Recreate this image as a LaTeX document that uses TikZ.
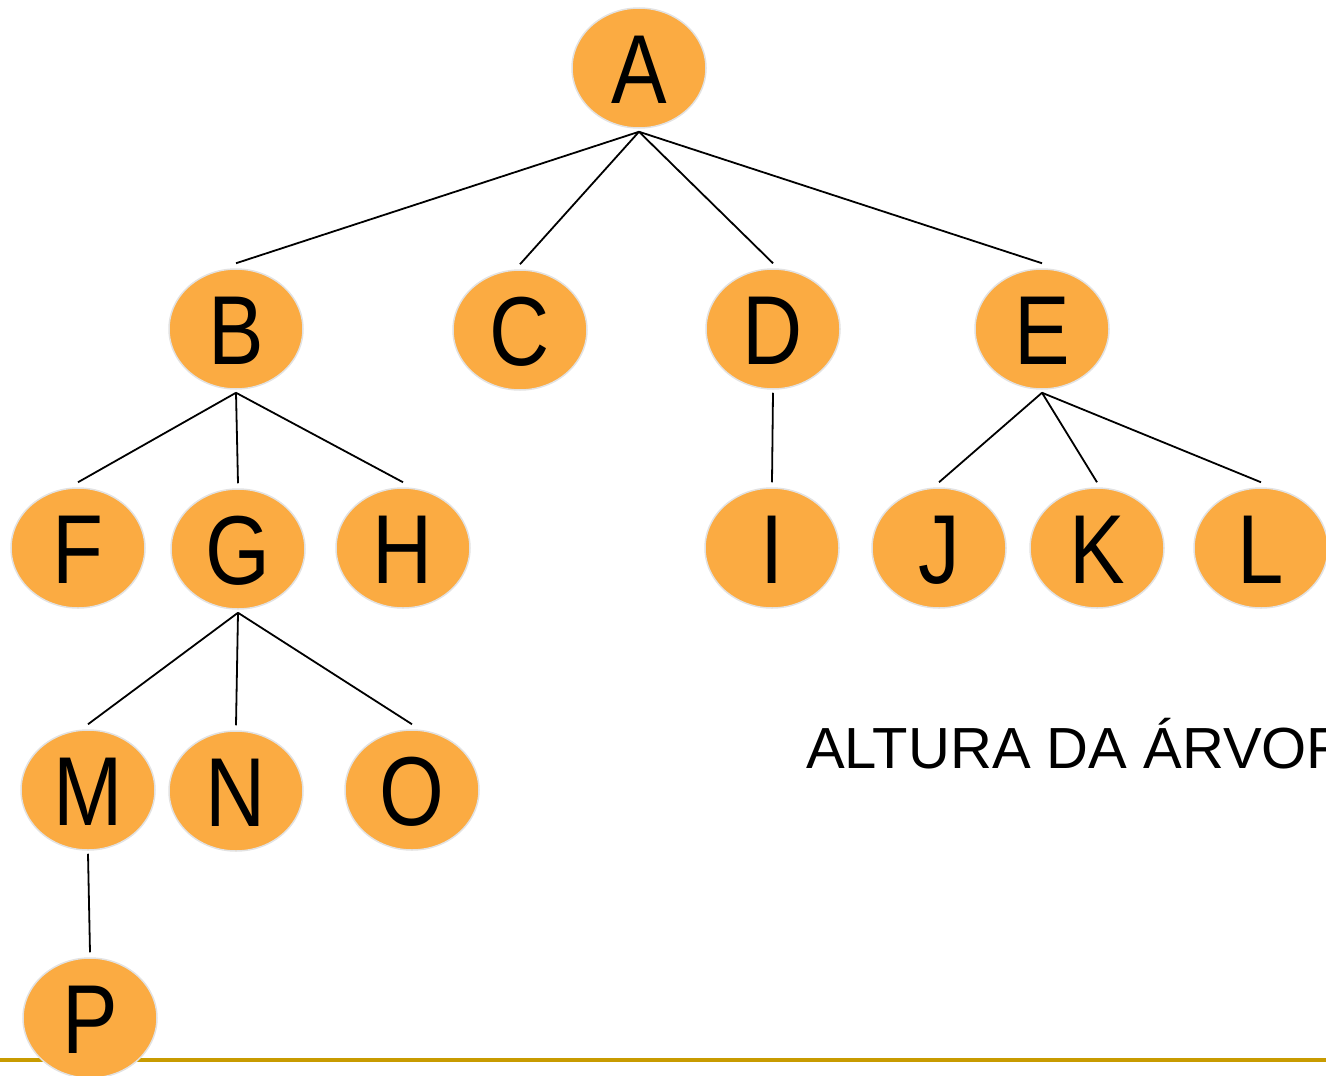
\documentclass[tikz,border=0pt]{standalone}
\usepackage{fontspec}
\setmainfont{Liberation Sans}
\newfontfamily\nodefont[FakeStretch=0.85]{Liberation Sans}
\usetikzlibrary{shapes.geometric}
\definecolor{nodeorange}{HTML}{FBAB42}
\definecolor{nodeborder}{HTML}{E2E2E2}
\definecolor{goldline}{HTML}{C89B00}
\begin{document}
\begin{tikzpicture}[x=1pt,y=-1pt,
  treenode/.style={ellipse, fill=nodeorange, draw=nodeborder, line width=1.5pt,
    minimum width=134pt, minimum height=120pt, inner sep=0pt,
    font=\nodefont\fontsize{98}{98}\selectfont, text height=70pt, text depth=0pt},
  edge/.style={draw=black, line width=1.8pt}]
\useasboundingbox (0,0) rectangle (1326,1076);
\draw[goldline, line width=3.5pt] (0,1060) -- (1326,1060);
\node[treenode] (A) at (639,68) {A};
\node[treenode] (B) at (236,329) {B};
\node[treenode] (C) at (520,330) {C};
\node[treenode] (D) at (773,329) {D};
\node[treenode] (E) at (1042,329) {E};
\node[treenode] (F) at (78,548) {F};
\node[treenode] (G) at (238,549) {G};
\node[treenode] (H) at (403,548) {H};
\node[treenode] (I) at (772,548) {I};
\node[treenode] (J) at (939,548) {J};
\node[treenode] (K) at (1097,548) {K};
\node[treenode] (L) at (1261,548) {L};
\node[treenode] (M) at (88,790) {M};
\node[treenode] (N) at (236,791) {N};
\node[treenode] (O) at (412,790) {O};
\node[treenode] (P) at (90,1018) {P};
\foreach \p/\c in {A/B,A/C,A/D,A/E,B/F,B/G,B/H,D/I,E/J,E/K,E/L,G/M,G/N,G/O,M/P}
  \draw[edge] ([yshift=-3pt]\p.south) -- ([yshift=5pt]\c.north);
\node[anchor=base west, inner sep=0pt, font=\fontsize{58}{58}\selectfont] (T) at (806,768) {ALTURA DA ÁRVORE};
\end{tikzpicture}
\end{document}
